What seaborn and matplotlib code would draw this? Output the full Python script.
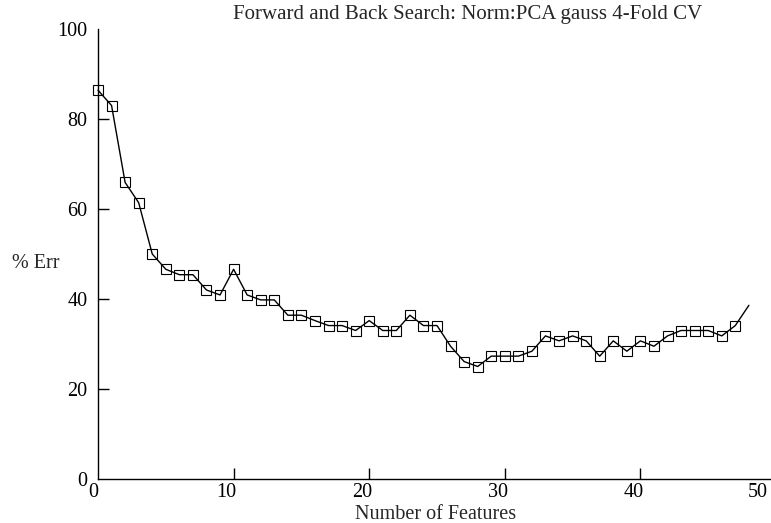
import matplotlib
matplotlib.use("Agg")
import matplotlib.pyplot as plt
import matplotlib.transforms as mtransforms
import seaborn as sns
import pandas as pd

# Cross-validated error (%) for each number of selected features
n_features = list(range(49))
err_pct = [86.4, 83.0, 65.9, 61.4, 50.0, 46.6, 45.4, 45.4, 42.0, 40.9,
           46.6, 40.9, 39.8, 39.8, 36.4, 36.4, 35.2, 34.1, 34.1, 33.0,
           35.2, 33.0, 33.0, 36.4, 34.1, 34.1, 29.5, 26.1, 25.0, 27.3,
           27.3, 27.3, 28.4, 31.8, 30.7, 31.8, 30.7, 27.3, 30.7, 28.4,
           30.7, 29.5, 31.8, 33.0, 33.0, 33.0, 31.8, 34.1, 38.6]

x_ticks = [0, 10, 20, 30, 40, 50]
y_ticks = [0, 20, 40, 60, 80, 100]

title = "Forward and Back Search: Norm:PCA gauss 4-Fold CV"
x_label = "Number of Features"
y_label = "% Err"

df = pd.DataFrame({"features": n_features, "err": err_pct})

sns.set_style("ticks")
plt.rcParams["font.family"] = ["Liberation Serif", "DejaVu Serif"]
plt.rcParams["font.size"] = 14.5

W, H = 771, 523
fig = plt.figure(figsize=(W / 100, H / 100), dpi=100)
# axes run slightly past the right edge of the canvas
left, right, bottom, top = 98, 776, 479, 29
ax = fig.add_axes([left / W, 1 - bottom / H, (right - left) / W, (bottom - top) / H])

sns.lineplot(data=df, x="features", y="err", ax=ax, color="black",
             linewidth=1.0, marker="s", markersize=6.8,
             markerfacecolor="none", markeredgecolor="black",
             markeredgewidth=0.8, markevery=list(range(len(n_features) - 1)),
             clip_on=False)

ax.set_xlim(0, 50)
ax.set_ylim(0, 100)
ax.set_xticks(x_ticks)
ax.set_yticks(y_ticks)
ax.set_xticklabels([str(v) for v in x_ticks])
ax.set_yticklabels([str(v) for v in y_ticks])
ax.set_xlabel("")
ax.set_ylabel("")

for s in ("top", "right"):
    ax.spines[s].set_visible(False)
for s in ("left", "bottom"):
    ax.spines[s].set_linewidth(1.0)
    ax.spines[s].set_color("black")

ax.tick_params(axis="both", direction="in", length=8, width=1.0,
               colors="black", labelsize=14.5)
ax.tick_params(axis="y", pad=7.5)
ax.tick_params(axis="x", pad=3)

# no tick marks at the corners or at the top
for i, t in enumerate(ax.xaxis.get_major_ticks()):
    if x_ticks[i] in (0, 50):
        t.tick1line.set_visible(False)
for i, t in enumerate(ax.yaxis.get_major_ticks()):
    if y_ticks[i] in (0, 100):
        t.tick1line.set_visible(False)

# x tick labels sit a little to the left of their ticks
x_shift = {0: -5, 50: -18}
for i, lab in enumerate(ax.get_xticklabels()):
    dx = x_shift.get(x_ticks[i], -7)
    off = mtransforms.ScaledTranslation(dx / 100, 0, fig.dpi_scale_trans)
    lab.set_transform(lab.get_transform() + off)

fig.text(468 / W, 1 - 14 / H, title, ha="center", va="center", fontsize=15)
fig.text(436 / W, 1 - 519 / H, x_label, ha="center", va="baseline", fontsize=14.5)
fig.text(36 / W, 1 - 263 / H, y_label, ha="center", va="center", fontsize=14.5)

fig.savefig("out.png", dpi=100)
